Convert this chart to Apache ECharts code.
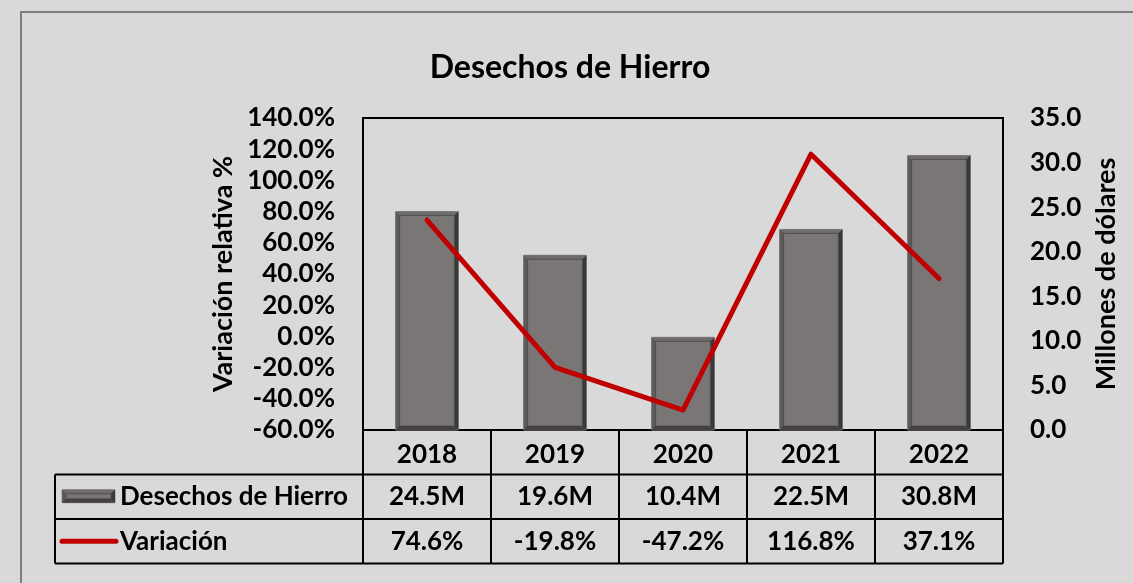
<!DOCTYPE html>
<html><head><meta charset="utf-8">
<script src="https://cdn.jsdelivr.net/npm/echarts@6/dist/echarts.min.js"></script>
<style>html,body{margin:0;padding:0;background:#d9d9d9;overflow:hidden}#c{width:1133px;height:583px}</style>
</head><body><div id="c"></div>
<script>
const categories = ['2018', '2019', '2020', '2021', '2022'];
const desechos = [24.5, 19.6, 10.4, 22.5, 30.8];
const variacion = [74.6, -19.8, -47.2, 116.8, 37.1];
const desechosLabels = ['24.5M', '19.6M', '10.4M', '22.5M', '30.8M'];
const variacionLabels = ['74.6%', '-19.8%', '-47.2%', '116.8%', '37.1%'];
const seriesNames = ['Desechos de Hierro', 'Variación'];
const chartTitle = 'Desechos de Hierro';
const leftAxisTitle = 'Variación relativa %';
const rightAxisTitle = 'Millones de dólares';

const FONT = 'Lato';
const FS = 26;
const chart = echarts.init(document.getElementById('c'), null, {renderer: 'canvas'});
const G = {left: 363, right: 130, top: 118, bottom: 153};

// beveled bar shape (Excel style)
function bevelBar(x, y, w, h) {
  const b = Math.min(4, w / 4, h / 2);
  const x2 = x + w, y2 = y + h;
  return [
    {type: 'rect', shape: {x: x, y: y, width: w, height: h}, style: {fill: '#6a6666', stroke: '#8e8a8a', lineWidth: 1}},
    {type: 'polygon', shape: {points: [[x, y], [x2, y], [x2 - b, y + b], [x + b, y + b]]}, style: {fill: '#6f6b6b'}},
    {type: 'polygon', shape: {points: [[x, y], [x + b, y + b], [x + b, y2 - b], [x, y2]]}, style: {fill: '#5e5a5a'}},
    {type: 'polygon', shape: {points: [[x2, y], [x2, y2], [x2 - b, y2 - b], [x2 - b, y + b]]}, style: {fill: '#3b3838'}},
    {type: 'polygon', shape: {points: [[x, y2], [x + b, y2 - b], [x2 - b, y2 - b], [x2, y2]]}, style: {fill: '#454141'}},
    {type: 'rect', shape: {x: x + b, y: y + b, width: w - 2 * b, height: h - 2 * b}, style: {fill: '#7a7676', stroke: '#4a4747', lineWidth: 0.8}}
  ];
}

chart.setOption({
  backgroundColor: '#d9d9d9',
  animation: false,
  title: {text: chartTitle, left: 565, top: 47, textAlign: 'center',
    textStyle: {fontFamily: FONT, fontSize: 32, fontWeight: 'bold', color: '#000'}},
  grid: {left: G.left, right: G.right, top: G.top, bottom: G.bottom, show: true,
    outerBoundsMode: 'none', containLabel: false,
    borderColor: '#000', borderWidth: 2, backgroundColor: 'transparent'},
  xAxis: {type: 'category', data: categories,
    axisLine: {show: false}, axisTick: {show: false},
    axisLabel: {margin: 12, fontFamily: FONT, fontSize: FS, fontWeight: 'bold', color: '#000'}},
  yAxis: [
    {type: 'value', min: -60, max: 140, interval: 20, position: 'left',
      name: leftAxisTitle, nameLocation: 'middle', nameGap: 125, nameRotate: 90,
      nameTextStyle: {fontFamily: FONT, fontSize: 27, fontWeight: 'bold', color: '#000'},
      axisLine: {show: false}, axisTick: {show: false}, splitLine: {show: false},
      axisLabel: {margin: 28, fontFamily: FONT, fontSize: FS, fontWeight: 'bold', color: '#000',
        formatter: v => v.toFixed(1) + '%'}},
    {type: 'value', min: 0, max: 35, interval: 5, position: 'right',
      name: rightAxisTitle, nameLocation: 'middle', nameGap: 90, nameRotate: 90,
      nameTextStyle: {fontFamily: FONT, fontSize: 27, fontWeight: 'bold', color: '#000'},
      axisLine: {show: false}, axisTick: {show: false}, splitLine: {show: false},
      axisLabel: {margin: 27, fontFamily: FONT, fontSize: FS, fontWeight: 'bold', color: '#000',
        formatter: v => v.toFixed(1)}}
  ],
  series: [
    {name: seriesNames[0], type: 'custom', yAxisIndex: 1,
      data: desechos.map((v, i) => [i, v]),
      encode: {x: 0, y: 1},
      renderItem: function (params, api) {
        const top = api.coord([api.value(0), api.value(1)]);
        const base = api.coord([api.value(0), 0]);
        const w = api.size([1, 0])[0] * 0.49;
        return {type: 'group', children: bevelBar(top[0] - w / 2, top[1], w, base[1] - top[1])};
      }},
    {name: seriesNames[1], type: 'line', yAxisIndex: 0, data: variacion, symbol: 'none',
      lineStyle: {color: '#c00000', width: 5, cap: 'round', join: 'round'}, z: 5}
  ]
});

// data table drawn under the plot, aligned to the category axis
function drawTable() {
  const c0 = chart.convertToPixel({xAxisIndex: 0}, 0);
  const c1 = chart.convertToPixel({xAxisIndex: 0}, 1);
  const cw = c1 - c0;
  const left = c0 - cw / 2;
  const right = left + cw * categories.length;
  const y0 = chart.getHeight() - G.bottom;
  const rh = 44.5;
  const tLeft = 55;
  const els = [];
  const ls = {stroke: '#000', lineWidth: 2};
  els.push({type: 'rect', shape: {x: 21, y: 12, width: 1200, height: 700}, style: {fill: 'none', stroke: '#7f7f7f', lineWidth: 2}, z: -1});
  els.push({type: 'line', shape: {x1: tLeft, y1: y0 + rh, x2: right, y2: y0 + rh}, style: ls});
  els.push({type: 'line', shape: {x1: tLeft, y1: y0 + 2 * rh, x2: right, y2: y0 + 2 * rh}, style: ls});
  els.push({type: 'line', shape: {x1: tLeft, y1: y0 + 3 * rh, x2: right, y2: y0 + 3 * rh}, style: ls});
  els.push({type: 'line', shape: {x1: tLeft, y1: y0 + rh, x2: tLeft, y2: y0 + 3 * rh}, style: ls});
  for (let i = 0; i <= categories.length; i++) {
    const x = left + i * cw;
    els.push({type: 'line', shape: {x1: x, y1: y0, x2: x, y2: y0 + 3 * rh}, style: ls});
  }
  const ts = {fontFamily: FONT, fontSize: FS, fontWeight: 'bold', fill: '#000', align: 'center', verticalAlign: 'middle'};
  categories.forEach((c, i) => {
    const cx = chart.convertToPixel({xAxisIndex: 0}, i);
    els.push({type: 'text', x: cx, y: y0 + 1.5 * rh, style: Object.assign({text: desechosLabels[i]}, ts)});
    els.push({type: 'text', x: cx, y: y0 + 2.5 * rh, style: Object.assign({text: variacionLabels[i]}, ts)});
  });
  const ky1 = y0 + 1.5 * rh, ky2 = y0 + 2.5 * rh;
  els.push({type: 'group', children: bevelBar(62, ky1 - 7, 53, 13)});
  els.push({type: 'line', shape: {x1: 62, y1: ky2, x2: 116, y2: ky2}, style: {stroke: '#c00000', lineWidth: 5, lineCap: 'round'}});
  els.push({type: 'text', x: 120, y: ky1, style: Object.assign({text: seriesNames[0]}, ts, {align: 'left'})});
  els.push({type: 'text', x: 120, y: ky2, style: Object.assign({text: seriesNames[1]}, ts, {align: 'left'})});
  chart.setOption({graphic: {elements: els}});
}
drawTable();
</script></body></html>
